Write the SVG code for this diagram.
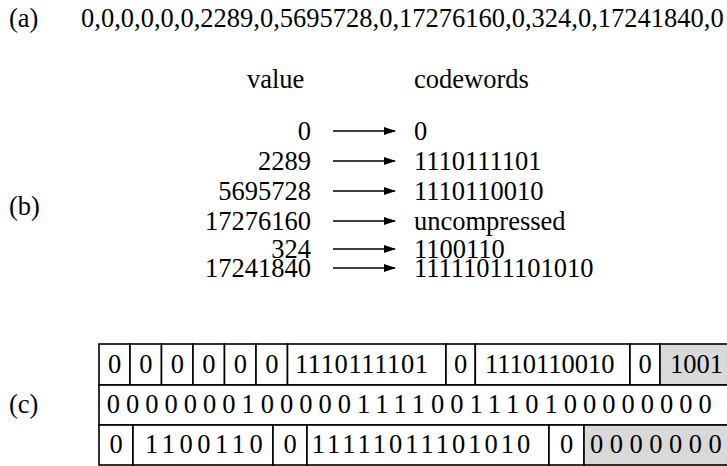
<svg xmlns="http://www.w3.org/2000/svg" width="727" height="466" viewBox="0 0 727 466">
<defs>
<style>
text{font-family:"Liberation Serif","Times New Roman",serif;font-size:26.5px;fill:#000}
.m{text-anchor:middle}
.e{text-anchor:end}
.cell{fill:#fff;stroke:#000;stroke-width:1.6}
.gray{fill:#d9d9d9;stroke:#000;stroke-width:1.6}
.arr{stroke:#000;stroke-width:1.6;fill:none;marker-end:url(#ah)}
</style>
<marker id="ah" markerWidth="12" markerHeight="8" refX="11" refY="4" orient="auto" markerUnits="userSpaceOnUse">
<path d="M0,0 L12,4 L0,8 Z" fill="#000"/>
</marker>
</defs>
<rect width="727" height="466" fill="#fff"/>

<g id="part-a">
<text x="9" y="27">(a)</text>
<text x="81" y="27">0,0,0,0,0,0,2289,0,5695728,0,17276160,0,324,0,17241840,0</text>
</g>

<g id="part-b-label"><text x="9" y="215">(b)</text></g>
<g id="headers">
<text x="247" y="88">value</text>
<text x="414" y="88">codewords</text>
</g>
<g id="values">
<text class="e" x="311" y="140">0</text>
<text class="e" x="311" y="170">2289</text>
<text class="e" x="311" y="200">5695728</text>
<text class="e" x="311" y="230">17276160</text>
<text class="e" x="311" y="258">324</text>
<text class="e" x="311" y="277">17241840</text>
</g>
<g id="codewords">
<text x="414" y="140">0</text>
<text x="414" y="170">1110111101</text>
<text x="414" y="200">1110110010</text>
<text x="414" y="230">uncompressed</text>
<text x="414" y="258">1100110</text>
<text x="414" y="277">11111011101010</text>
</g>
<g id="connectors">
<line class="arr" x1="333" y1="131" x2="395" y2="131"/>
<line class="arr" x1="333" y1="161" x2="395" y2="161"/>
<line class="arr" x1="333" y1="191" x2="395" y2="191"/>
<line class="arr" x1="333" y1="221" x2="395" y2="221"/>
<line class="arr" x1="333" y1="249" x2="395" y2="249"/>
<line class="arr" x1="333" y1="268" x2="395" y2="268"/>
</g>

<g id="part-c-label"><text x="9" y="413">(c)</text></g>
<g id="row1">
<rect class="cell" x="99" y="344" width="31" height="41"/>
<rect class="cell" x="130" y="344" width="31.5" height="41"/>
<rect class="cell" x="161.5" y="344" width="31.5" height="41"/>
<rect class="cell" x="193" y="344" width="31.5" height="41"/>
<rect class="cell" x="224.5" y="344" width="31.5" height="41"/>
<rect class="cell" x="256" y="344" width="31.5" height="41"/>
<rect class="cell" x="287.5" y="344" width="158.5" height="41"/>
<rect class="cell" x="446" y="344" width="29.3" height="41"/>
<rect class="cell" x="475.3" y="344" width="154.7" height="41"/>
<rect class="cell" x="630" y="344" width="30" height="41"/>
<rect class="gray" x="660" y="344" width="70" height="41"/>
<text class="m" x="114.5" y="373">0</text>
<text class="m" x="145.75" y="373">0</text>
<text class="m" x="177.25" y="373">0</text>
<text class="m" x="208.75" y="373">0</text>
<text class="m" x="240.25" y="373">0</text>
<text class="m" x="271.75" y="373">0</text>
<text x="295" y="373" letter-spacing="0.6">1110111101</text>
<text class="m" x="460.6" y="373">0</text>
<text x="485" y="373">1110110010</text>
<text class="m" x="645" y="373">0</text>
<text x="670" y="373">1001</text>
</g>
<g id="row2">
<rect class="cell" x="99" y="385" width="631" height="40"/>
<text x="106.7" y="413" letter-spacing="6">00000001000001111001110100000000</text>
</g>
<g id="row3">
<rect class="cell" x="99" y="425" width="34" height="40"/>
<rect class="cell" x="133" y="425" width="140" height="40"/>
<rect class="cell" x="273" y="425" width="34" height="40"/>
<rect class="cell" x="307" y="425" width="242" height="40"/>
<rect class="cell" x="549" y="425" width="35" height="40"/>
<rect class="gray" x="584" y="425" width="146" height="40"/>
<text class="m" x="116" y="453">0</text>
<text x="145" y="453" letter-spacing="4.5">1100110</text>
<text class="m" x="290" y="453">0</text>
<text x="311.7" y="453" letter-spacing="3">11111011101010</text>
<text class="m" x="566.5" y="453">0</text>
<text x="590" y="453" letter-spacing="6.5">0000000</text>
</g>
</svg>
